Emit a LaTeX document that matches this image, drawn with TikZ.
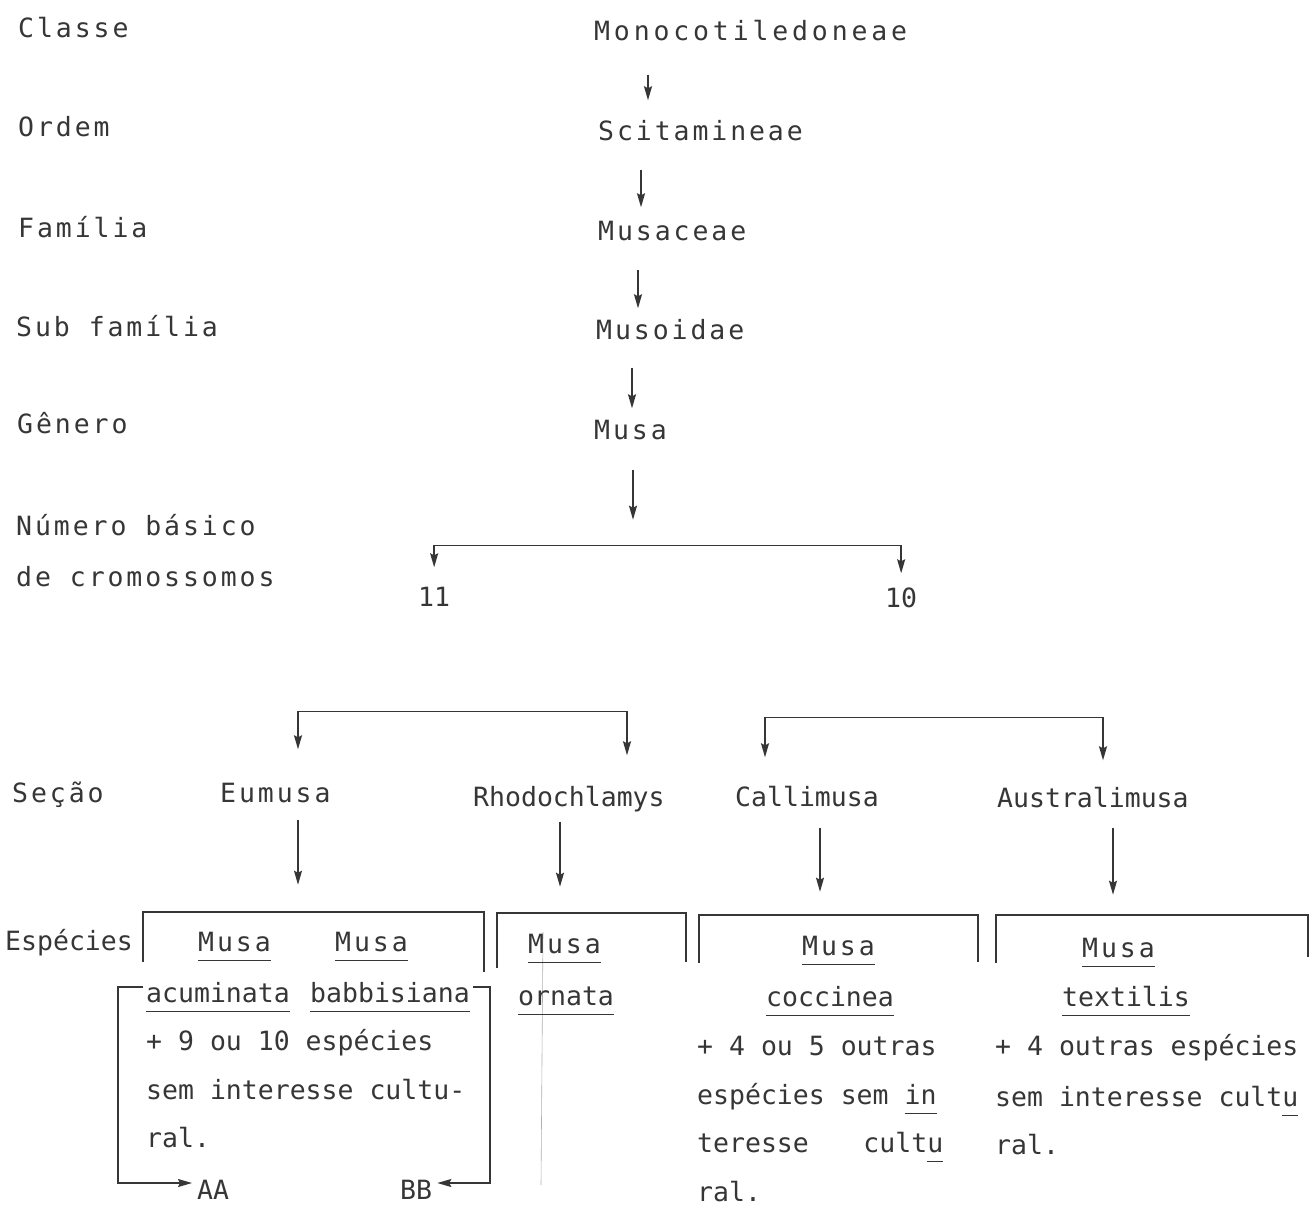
\documentclass[tikz,border=0pt]{standalone}
\usepackage{fontspec}
\usetikzlibrary{arrows.meta}
\newfontfamily\tw{DejaVu Sans Mono}
\newfontfamily\twide[LetterSpace=11]{DejaVu Sans Mono}
\newfontfamily\twider[LetterSpace=14.5]{DejaVu Sans Mono}
\definecolor{ink}{HTML}{363636}
\newcommand\ulw[1]{\setbox0\hbox{#1}\rlap{\rule[-9.5pt]{\wd0}{1.3pt}}\box0}
\tikzset{
  tip/.tip={Stealth[length=14pt,width=8pt,inset=2pt]},
  txt/.style={inner sep=0pt, anchor=west, text=ink, text height=19pt, text depth=0pt,
    font=\fontsize{26.5}{30}\selectfont\tw},
  wtxt/.style={txt, font=\fontsize{26.5}{30}\selectfont\twide},
  arr/.style={draw=ink, line width=1.5pt, -tip},
  arrr/.style={draw=ink, line width=1.5pt, tip-tip},
  box/.style={draw=ink, line width=1.5pt}
}
\begin{document}
\begin{tikzpicture}[x=1pt,y=-1pt]
  \useasboundingbox (0,0) rectangle (1316,1209);
  % ranks
  \node[wtxt] (cls)  at (18,28)  {Classe};
  \node[wtxt] (ord)  at (18,127) {Ordem};
  \node[wtxt] (fam)  at (18,228) {Família};
  \node[wtxt] (sfam) at (16,327) {Sub família};
  \node[wtxt] (gen)  at (17,424) {Gênero};
  \node[wtxt] (num)  at (16,526) {Número básico};
  \node[wtxt] (crom) at (16,577) {de cromossomos};
  \node[wtxt] (sec)  at (12,793) {Seção};
  \node[txt]  (esp)  at (5,941)  {Espécies};
  % taxa
  \node[txt, font=\fontsize{26.5}{30}\selectfont\twider] (mono) at (594,31) {Monocotiledoneae};
  \node[wtxt] (scit) at (598,131) {Scitamineae};
  \node[wtxt] (musc) at (598,231) {Musaceae};
  \node[wtxt] (muso) at (596,330) {Musoidae};
  \node[wtxt] (musa) at (594,430) {Musa};
  \node[txt]  (n11)  at (418,597) {11};
  \node[txt]  (n10)  at (885,598) {10};
  \node[wtxt] (eum)  at (220,793) {Eumusa};
  \node[txt]  (rho)  at (473,797) {Rhodochlamys};
  \node[txt]  (cal)  at (735,797) {Callimusa};
  \node[txt]  (aus)  at (997,798) {Australimusa};

  \draw[arr] ([xshift=54pt,yshift=-34pt]mono.south west) -- ([xshift=50pt,yshift=21pt]scit.north west);
  \draw[arr] ([xshift=43pt,yshift=-29pt]scit.south west) -- ([xshift=43pt,yshift=14pt]musc.north west);
  \draw[arr] ([xshift=40pt,yshift=-29pt]musc.south west) -- ([xshift=42pt,yshift=12pt]muso.north west);
  \draw[arr] ([xshift=36pt,yshift=-28pt]muso.south west) -- ([xshift=38pt,yshift=12pt]musa.north west);
  \draw[arr] ([xshift=39pt,yshift=-30pt]musa.south west) -- ++(0,50);

  \draw[arrr] ([yshift=20pt]n11.north) -- ++(0,-22) -| ([yshift=15pt]n10.north);
  \draw[arrr] ([xshift=78pt,yshift=34pt]eum.north west) -- ++(0,-38) -| ([xshift=154pt,yshift=32pt]rho.north west);
  \draw[arrr] ([xshift=30pt,yshift=30pt]cal.north west) -- ++(0,-40) -| ([xshift=106pt,yshift=28pt]aus.north west);

  \draw[arr] ([xshift=78pt,yshift=-17pt]eum.south west) -- ++(0,65);
  \draw[arr] ([xshift=87pt,yshift=-15pt]rho.south west) -- ++(0,65);
  \draw[arr] ([xshift=85pt,yshift=-21pt]cal.south west) -- ++(0,64);
  \draw[arr] ([xshift=116pt,yshift=-20pt]aus.south west) -- ++(0,67);

  % species
  \draw[box] (143,962) |- (484,912) -- (484,972);
  \draw[box] (497,968) |- (686,913) -- (686,962);
  \draw[box] (699,963) |- (978,915) -- (978,962);
  \draw[box] (996,963) |- (1308,915) -- (1308,957);
  \draw[ink!40, line width=0.6pt] (543,932) -- (541,1185);

  \node[wtxt] (m1)  at (198,942) {\ulw{Musa}};
  \node[wtxt] (m2)  at (335,942) {\ulw{Musa}};
  \node[txt]  (acu) at (146,993) {\ulw{acuminata}};
  \node[txt]  (bab) at (310,993) {\ulw{babbisiana}};
  \node[txt]  (e1)  at (146,1041) {+ 9 ou 10 espécies};
  \node[txt]  (e2)  at (146,1090) {sem interesse cultu-};
  \node[txt]  (e3)  at (146,1138) {ral.};
  \node[txt]  (aa)  at (197,1190) {AA};
  \node[txt]  (bb)  at (400,1190) {BB};
  \draw[arr] ([xshift=-3pt,yshift=6pt]acu.west) -- ++(-25,0) |- ([xshift=-5pt,yshift=7pt]aa.west);
  \draw[arr] ([xshift=3pt,yshift=6pt]bab.east) -- ++(17,0) |- ([xshift=5pt,yshift=7pt]bb.east);

  \node[wtxt] (m3)  at (528,944) {\ulw{Musa}};
  \node[txt]  (orn) at (518,996) {\ulw{ornata}};

  \node[wtxt] (m4)  at (802,946) {\ulw{Musa}};
  \node[txt]  (coc) at (766,997) {\ulw{coccinea}};
  \node[txt]  (c1)  at (697,1046) {+ 4 ou 5 outras};
  \node[txt]  (c2)  at (697,1095) {espécies sem \ulw{in}};
  \node[txt]  (c3)  at (697,1143) {\makebox[246pt][l]{teresse\hfill cult\ulw{u}}};
  \node[txt]  (c4)  at (697,1192) {ral.};

  \node[wtxt] (m5)  at (1082,948) {\ulw{Musa}};
  \node[txt]  (tex) at (1062,997) {\ulw{textilis}};
  \node[txt]  (t1)  at (995,1046) {+ 4 outras espécies};
  \node[txt]  (t2)  at (995,1097) {sem interesse cult\ulw{u}};
  \node[txt]  (t3)  at (995,1145) {ral.};
\end{tikzpicture}
\end{document}
